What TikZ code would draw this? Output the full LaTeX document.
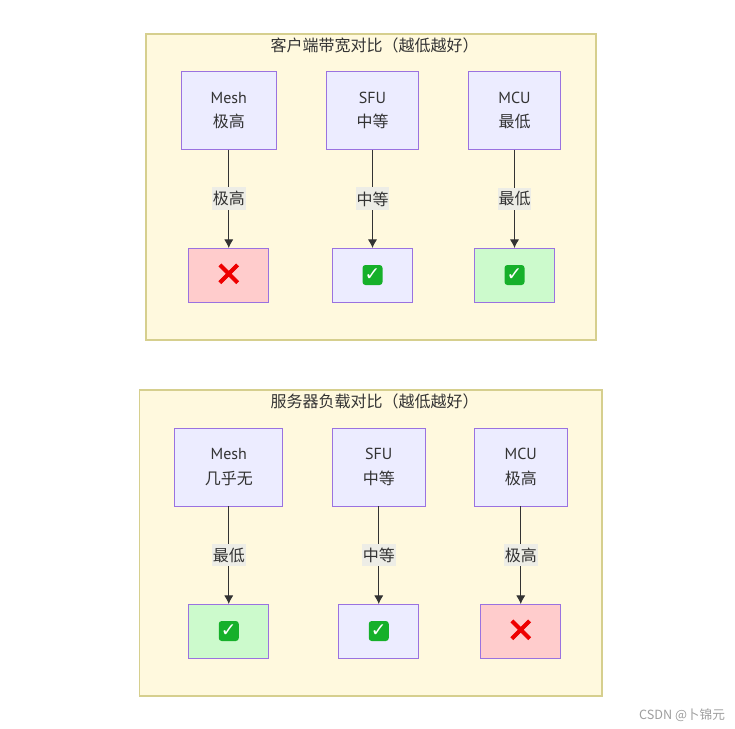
\documentclass[tikz,border=0pt]{standalone}
\usepackage{fontspec}
\setmainfont{Noto Sans CJK SC}
\newfontfamily\symfont{DejaVu Sans}
\newfontfamily\crossfont[FakeBold=2.5]{DejaVu Sans}
\newfontfamily\latfont{PT Sans}
\usetikzlibrary{arrows.meta}
\definecolor{clfill}{HTML}{FFF9DE}
\definecolor{clline}{HTML}{D6CF8E}
\definecolor{nfill}{HTML}{ECECFF}
\definecolor{nline}{HTML}{9A72E0}
\definecolor{badfill}{HTML}{FFCCCC}
\definecolor{goodfill}{HTML}{CCFACC}
\definecolor{lblfill}{HTML}{EDEDE6}
\definecolor{ink}{HTML}{333333}
\definecolor{iconred}{HTML}{EE0000}
\definecolor{icongreen}{HTML}{16B02A}
\newcommand{\twolines}[2]{\raisebox{-1.2pt}{\strut{\latfont #1}}\\[0.4pt]\raisebox{-1.2pt}{\strut #2}}
\tikzset{
  sz/.style 2 args={minimum width=#1*0.75pt,minimum height=#2*0.75pt,inner sep=0pt,outer sep=0pt},
  cluster/.style={draw=clline,fill=clfill,line width=1pt},
  title/.style={font=\fontsize{12}{14}\selectfont,text=ink,inner sep=0pt},
  box/.style={draw=nline,fill=nfill,line width=0.75pt,align=center,text=ink,
    font=\fontsize{12}{18}\selectfont},
  bad/.style={box,fill=badfill},
  good/.style={box,fill=goodfill},
  lbl/.style={fill=lblfill,text=ink,font=\fontsize{12}{14}\selectfont,inner xsep=0.6pt,inner ysep=3pt,pos=0.5},
  arrow/.style={draw=ink,line width=0.75pt,-{Latex[length=6.5pt,width=7pt]}},
  cross/.style={text=iconred,font=\crossfont\fontsize{25}{25}\selectfont,inner sep=0pt},
  check/.style={fill=icongreen,rounded corners=2.2pt,minimum width=15pt,minimum height=15pt,inner sep=0pt,
    text=white,font=\symfont\bfseries\fontsize{14}{14}\selectfont},
  wm/.style={text=black!38,font=\fontsize{9.5}{11}\selectfont,inner sep=0pt}
}
\begin{document}
\begin{tikzpicture}[x=0.75pt,y=-0.75pt]
\useasboundingbox (0,0) rectangle (735,728);
% top cluster
\node[cluster,sz={450}{306}] (c1) at (371,187) {};
\node[title] (t1) at (374.5,45) {客户端带宽对比（越低越好）};
\node[box,sz={95.5}{78.5}] (a1) at (228.75,110.5) {\twolines{Mesh}{极高}};
\node[box,sz={92.5}{78.5}] (a2) at (372.5,110.5) {\twolines{SFU}{中等}};
\node[box,sz={92.5}{78.5}] (a3) at (514.5,110.5) {\twolines{MCU}{最低}};
\node[bad,sz={80}{54}] (r1) at (228.75,275) {};
\node[box,sz={80}{54}] (r2) at (372.5,275) {};
\node[good,sz={80}{54}] (r3) at (514.5,275) {};
\node[cross] (i1) at (r1) {✕};
\node[check] (i2) at (r2) {✓};
\node[check] (i3) at (r3) {✓};
\draw[arrow] (a1.south) -- node[lbl]{极高} (r1.north);
\draw[arrow] (a2.south) -- node[lbl]{中等} (r2.north);
\draw[arrow] (a3.south) -- node[lbl]{最低} (r3.north);
% bottom cluster
\node[cluster,sz={462.5}{306}] (c2) at (370.75,543) {};
\node[title] (t2) at (374.5,401) {服务器负载对比（越低越好）};
\node[box,sz={108}{78}] (b1) at (228.75,467) {\twolines{Mesh}{几乎无}};
\node[box,sz={92.5}{78}] (b2) at (378.75,467) {\twolines{SFU}{中等}};
\node[box,sz={92.5}{78}] (b3) at (520.75,467) {\twolines{MCU}{极高}};
\node[good,sz={80}{54}] (s1) at (228.75,631) {};
\node[box,sz={80}{54}] (s2) at (378.75,631) {};
\node[bad,sz={80}{54}] (s3) at (520.75,631) {};
\node[check] (j1) at (s1) {✓};
\node[check] (j2) at (s2) {✓};
\node[cross] (j3) at (s3) {✕};
\draw[arrow] (b1.south) -- node[lbl]{最低} (s1.north);
\draw[arrow] (b2.south) -- node[lbl]{中等} (s2.north);
\draw[arrow] (b3.south) -- node[lbl]{极高} (s3.north);
% watermark
\node[wm] (w) at (682,715) {CSDN @卜锦元};
\end{tikzpicture}
\end{document}
